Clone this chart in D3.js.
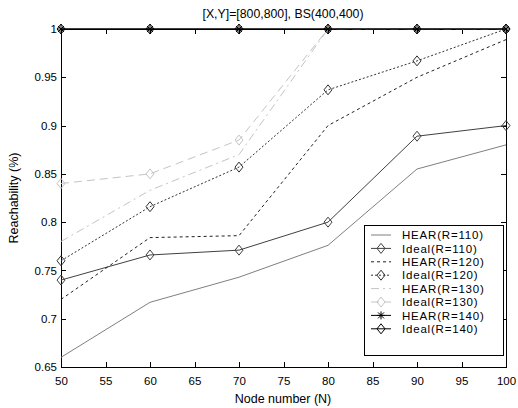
<!DOCTYPE html>
<html>
<head>
<meta charset="utf-8">
<script src="https://cdn.jsdelivr.net/npm/d3@7"></script>
<style>
  body { margin: 0; background: #fff; }
  svg { display: block; }
  text { font-family: Arial, "Liberation Sans", Helvetica, sans-serif; font-size: 11.5px; fill: #000; }
  .title { font-size: 12.3px; }
  .label { font-size: 12.5px; }
  .legend text { font-size: 11.5px; letter-spacing: 0.8px; }
  .axis path, .axis line { stroke: #000; shape-rendering: crispEdges; }
</style>
</head>
<body>
<svg id="chart"></svg>
<script>
// data
const nodes = [50, 60, 70, 80, 90, 100];
const hear110  = [0.66, 0.717, 0.743, 0.776, 0.855, 0.88];
const ideal110 = [0.74, 0.766, 0.771, 0.80, 0.889, 0.90];
const hear120  = [0.72, 0.784, 0.786, 0.90, 0.95, 0.989];
const ideal120 = [0.76, 0.816, 0.857, 0.937, 0.967, 1.0];
const hear130  = [0.78, 0.833, 0.87, 1.0, 1.0, 1.0];
const ideal130 = [0.84, 0.85, 0.885, 1.0, 1.0, 1.0];
const hear140  = [1, 1, 1, 1, 1, 1];
const ideal140 = [1, 1, 1, 1, 1, 1];
const xTicks = [50, 55, 60, 65, 70, 75, 80, 85, 90, 95, 100];
const yTicks = [0.65, 0.7, 0.75, 0.8, 0.85, 0.9, 0.95, 1];

const series = [
  {name: 'HEAR(R=110)',  values: hear110,  color: '#7f7f7f', dash: null,      marker: null},
  {name: 'Ideal(R=110)', values: ideal110, color: '#404040', dash: null,      marker: 'diamond'},
  {name: 'HEAR(R=120)',  values: hear120,  color: '#202020', dash: '3,3',     marker: null},
  {name: 'Ideal(R=120)', values: ideal120, color: '#303030', dash: '2,2',     marker: 'diamond'},
  {name: 'HEAR(R=130)',  values: hear130,  color: '#c4c4c4', dash: '8,4,2,4', marker: null},
  {name: 'Ideal(R=130)', values: ideal130, color: '#c4c4c4', dash: '8,5',     marker: 'diamond'},
  {name: 'HEAR(R=140)',  values: hear140,  color: '#000000', dash: null,      marker: 'star'},
  {name: 'Ideal(R=140)', values: ideal140, color: '#000000', dash: null,      marker: 'diamond'}
];

const W = 518, H = 408;
const margin = {top: 29, right: 12, bottom: 41, left: 61};
const width = W - margin.left - margin.right;
const height = H - margin.top - margin.bottom;

const svg = d3.select('#chart').attr('width', W).attr('height', H);
const chart = svg.append('g').attr('transform', `translate(${margin.left},${margin.top})`);

const x = d3.scaleLinear().domain([50, 100]).range([0, width]);
const y = d3.scaleLinear().domain([0.65, 1]).range([height, 0]);

// axes, ticks pointing inwards on all four sides
chart.append('g').attr('class', 'axis')
    .attr('transform', `translate(0,${height})`)
    .call(d3.axisBottom(x).tickValues(xTicks).tickSize(-5).tickPadding(10).tickFormat(d3.format('d')));
chart.append('g').attr('class', 'axis')
    .call(d3.axisLeft(y).tickValues(yTicks).tickSize(-5).tickPadding(4).tickFormat(d => d === 1 ? '1' : d3.format('.2~f')(d)));
chart.append('g').attr('class', 'axis')
    .call(d3.axisTop(x).tickValues(xTicks).tickSize(-5).tickFormat(''));
chart.append('g').attr('class', 'axis')
    .attr('transform', `translate(${width},0)`)
    .call(d3.axisRight(y).tickValues(yTicks).tickSize(-5).tickFormat(''));
chart.selectAll('.axis text').attr('font-size', null).attr('font-family', null);
chart.selectAll('.axis .domain').attr('stroke', '#000');

const diamond = 'M0,-5L4,0L0,5L-4,0Z';
const star = 'M-4,0L4,0M0,-4L0,4M-3,-3L3,3M-3,3L3,-3';

function drawMarker(g, type, color) {
  if (type === 'diamond') {
    g.append('path').attr('d', diamond).attr('fill', 'none').attr('stroke', color).attr('stroke-width', 1);
  } else if (type === 'star') {
    g.append('path').attr('d', star).attr('fill', 'none').attr('stroke', color).attr('stroke-width', 1);
  }
}

const line = d3.line().x((d, i) => x(nodes[i])).y(d => y(d));

series.forEach(s => {
  chart.append('path')
      .datum(s.values)
      .attr('d', line)
      .attr('fill', 'none')
      .attr('stroke', s.color)
      .attr('stroke-width', 1)
      .attr('stroke-dasharray', s.dash);
  if (s.marker) {
    s.values.forEach((v, i) => {
      const g = chart.append('g').attr('transform', `translate(${x(nodes[i])},${y(v)})`);
      drawMarker(g, s.marker, s.color);
    });
  }
});

// title and axis labels
svg.append('text').attr('class', 'title').attr('x', 283).attr('y', 18).attr('text-anchor', 'middle')
    .text('[X,Y]=[800,800], BS(400,400)');
svg.append('text').attr('class', 'label').attr('x', 283).attr('y', 403).attr('text-anchor', 'middle')
    .text('Node number (N)');
svg.append('text').attr('class', 'label').attr('transform', 'translate(18,198) rotate(-90)').attr('text-anchor', 'middle')
    .text('Reachability (%)');

// legend
const legend = svg.append('g').attr('class', 'legend').attr('transform', 'translate(364,225)');
legend.append('rect').attr('width', 139).attr('height', 130)
    .attr('fill', '#fff').attr('stroke', '#000').attr('shape-rendering', 'crispEdges');
series.forEach((s, i) => {
  const row = legend.append('g').attr('transform', `translate(0,${10 + i * 13.4})`);
  row.append('line').attr('x1', 7).attr('x2', 27).attr('y1', 0).attr('y2', 0)
      .attr('stroke', s.color).attr('stroke-dasharray', s.dash);
  if (s.marker) drawMarker(row.append('g').attr('transform', 'translate(17,0)'), s.marker, s.color);
  row.append('text').attr('x', 38).attr('y', 4.2).text(s.name);
});
</script>
</body>
</html>
